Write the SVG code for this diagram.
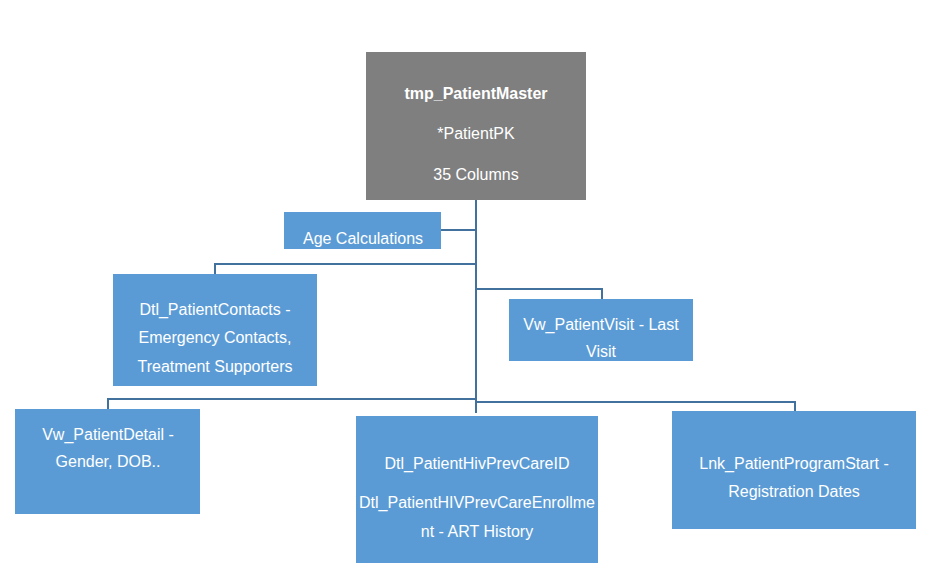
<svg xmlns="http://www.w3.org/2000/svg" width="937" height="574" viewBox="0 0 937 574">
<style>
.bg{fill:#ffffff}
.master{fill:#7f7f7f}
.box{fill:#5b9bd5}
.t{font-family:"Liberation Sans",Arial,sans-serif;font-size:16px;fill:#ffffff;text-anchor:middle}
.b{font-weight:bold}
.c{fill:none;stroke:#41719c;stroke-width:2}
</style>
<rect class="bg" x="0" y="0" width="937" height="574"/>
<g id="connectors">
<path class="c" d="M476 200 V413"/>
<path class="c" d="M441 230 H476"/>
<path class="c" d="M215 274 V264 H476"/>
<path class="c" d="M476 289 H602 V299"/>
<path class="c" d="M108 409 V399 H476"/>
<path class="c" d="M476 402 H795 V411"/>
</g>
<g id="master">
<rect class="master" x="366" y="52" width="220" height="148"/>
<text class="t b" x="476" y="99">tmp_PatientMaster</text>
<text class="t" x="476" y="139">*PatientPK</text>
<text class="t" x="476" y="180">35 Columns</text>
</g>
<g id="age">
<rect class="box" x="284" y="212" width="157" height="37"/>
<text class="t" x="363" y="244">Age Calculations</text>
</g>
<g id="contacts">
<rect class="box" x="113" y="274" width="204" height="112"/>
<text class="t" x="215" y="315">Dtl_PatientContacts -</text>
<text class="t" x="215" y="343">Emergency Contacts,</text>
<text class="t" x="215" y="372">Treatment Supporters</text>
</g>
<g id="visit">
<rect class="box" x="509" y="299" width="184" height="62"/>
<text class="t" x="601" y="330">Vw_PatientVisit - Last</text>
<text class="t" x="601" y="357">Visit</text>
</g>
<g id="detail">
<rect class="box" x="15" y="409" width="185" height="105"/>
<text class="t" x="108" y="440">Vw_PatientDetail -</text>
<text class="t" x="108" y="467">Gender, DOB..</text>
</g>
<g id="hiv">
<rect class="box" x="356" y="416" width="242" height="147"/>
<text class="t" x="477" y="469">Dtl_PatientHivPrevCareID</text>
<text class="t" x="477" y="508" textLength="236" lengthAdjust="spacingAndGlyphs">Dtl_PatientHIVPrevCareEnrollme</text>
<text class="t" x="477" y="537">nt - ART History</text>
</g>
<g id="program">
<rect class="box" x="672" y="411" width="244" height="118"/>
<text class="t" x="794" y="469">Lnk_PatientProgramStart -</text>
<text class="t" x="794" y="497">Registration Dates</text>
</g>
</svg>
